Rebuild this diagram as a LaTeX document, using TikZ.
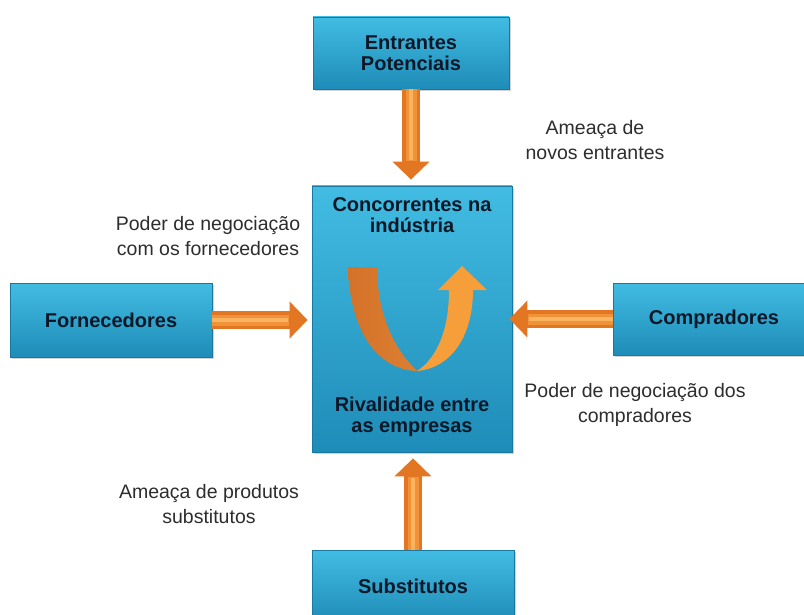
\documentclass[tikz,border=0pt]{standalone}
\usepackage{fontspec}
\setmainfont{Liberation Sans}
\usetikzlibrary{arrows.meta,shadows}

\definecolor{boxtop}{RGB}{66,188,226}
\definecolor{boxbottom}{RGB}{30,140,184}
\definecolor{boxline}{RGB}{24,120,160}
\definecolor{boxtext}{RGB}{12,24,40}
\definecolor{labeltext}{RGB}{45,45,45}
\definecolor{arrowdark}{RGB}{226,118,34}
\definecolor{arrowmid}{RGB}{240,146,56}
\definecolor{arrowlight}{RGB}{250,180,96}
\definecolor{ribbondark}{RGB}{212,114,40}
\definecolor{ribbonlight}{RGB}{246,158,58}

\tikzset{
	boxcaption/.style={text=boxtext, font=\fontsize{20}{20.5}\selectfont\bfseries,
		align=center, inner sep=0pt},
	forcebox/.style={boxcaption, rectangle, draw=boxline, line width=0.8pt,
		top color=boxtop, bottom color=boxbottom,
		drop shadow={opacity=0.35, shadow xshift=2pt, shadow yshift=-2pt}},
	forcelabel/.style={text=labeltext, font=\fontsize{19.5}{24.5}\selectfont,
		align=center, inner sep=0pt},
	forcearrow/.style={draw=arrowdark, line width=18pt,
		-{Triangle[width=36pt,length=18pt]}},
	forcemid/.style={draw=arrowmid, line width=11pt},
	forceglow/.style={draw=arrowlight, line width=4pt}
}

\begin{document}
\begin{tikzpicture}[x=1pt,y=-1pt]
			\useasboundingbox (0,0) rectangle (804,615);
			\fill[white] (0,0) rectangle (804,615);
			\clip (0,0) rectangle (804,615);

			% boxes
			\node[forcebox, minimum width=196pt, minimum height=72pt] (entrantes) at (411,53) {Entrantes\\Potenciais};
			\node[forcebox, minimum width=200pt, minimum height=266pt] (concorrentes) at (412,319) {};
			\node[forcebox, minimum width=202pt, minimum height=74pt] (fornecedores) at (111,320) {Fornecedores};
			\node[forcebox, minimum width=202pt, minimum height=72pt] (compradores) at (714,319) {Compradores};
			\node[forcebox, minimum width=202pt, minimum height=72pt] (substitutos) at (413,586) {Substitutos};

			% center box texts
			\node[boxcaption] (concorrentestxt) at (412,215) {Concorrentes na\\indústria};
			\node[boxcaption] (rivalidadetxt) at (412,417) {Rivalidade entre\\as empresas};

			% U arrow
			\shade[left color=ribbondark, right color=ribbondark!80!arrowlight] (348,267) .. controls (350,335) and (380,370) .. (417,371)
				.. controls (395,350) and (377,315) .. (377,267) -- cycle;
			\fill[ribbonlight] (417,371) .. controls (452,368) and (473,335) .. (473,290)
				-- (487,290) -- (462,266) -- (438,290) -- (449,290)
				.. controls (449,330) and (437,358) .. (417,371) -- cycle;

			%% Forces %%
			% new entrants
			\draw[forcearrow, shorten >=6pt] (entrantes.south) -- (entrantes.south |- concorrentes.north);
			\draw[forcemid, shorten >=25pt] (entrantes.south) -- (entrantes.south |- concorrentes.north);
			\draw[forceglow, shorten >=26pt] (entrantes.south) -- (entrantes.south |- concorrentes.north);
			% suppliers
			\draw[forcearrow, shorten >=4pt] (fornecedores.east) -- (fornecedores.east -| concorrentes.west);
			\draw[forcemid, shorten >=23pt] (fornecedores.east) -- (fornecedores.east -| concorrentes.west);
			\draw[forceglow, shorten >=24pt] (fornecedores.east) -- (fornecedores.east -| concorrentes.west);
			% buyers
			\draw[forcearrow, shorten >=-3pt] (compradores.west) -- (compradores.west -| concorrentes.east);
			\draw[forcemid, shorten >=16pt] (compradores.west) -- (compradores.west -| concorrentes.east);
			\draw[forceglow, shorten >=17pt] (compradores.west) -- (compradores.west -| concorrentes.east);
			% substitutes
			\draw[forcearrow, shorten >=6pt] (substitutos.north) -- (substitutos.north |- concorrentes.south);
			\draw[forcemid, shorten >=25pt] (substitutos.north) -- (substitutos.north |- concorrentes.south);
			\draw[forceglow, shorten >=26pt] (substitutos.north) -- (substitutos.north |- concorrentes.south);

			% labels
			\node[forcelabel] (ameacanovos) at (595,140) {Ameaça de\\novos entrantes};
			\node[forcelabel] (poderforn) at (208,236) {Poder de negociação\\com os fornecedores};
			\node[forcelabel] (podercomp) at (635,405) {Poder de negociação dos\\compradores};
			\node[forcelabel] (ameacasubs) at (209,504) {Ameaça de produtos\\substitutos};
\end{tikzpicture}
\end{document}
